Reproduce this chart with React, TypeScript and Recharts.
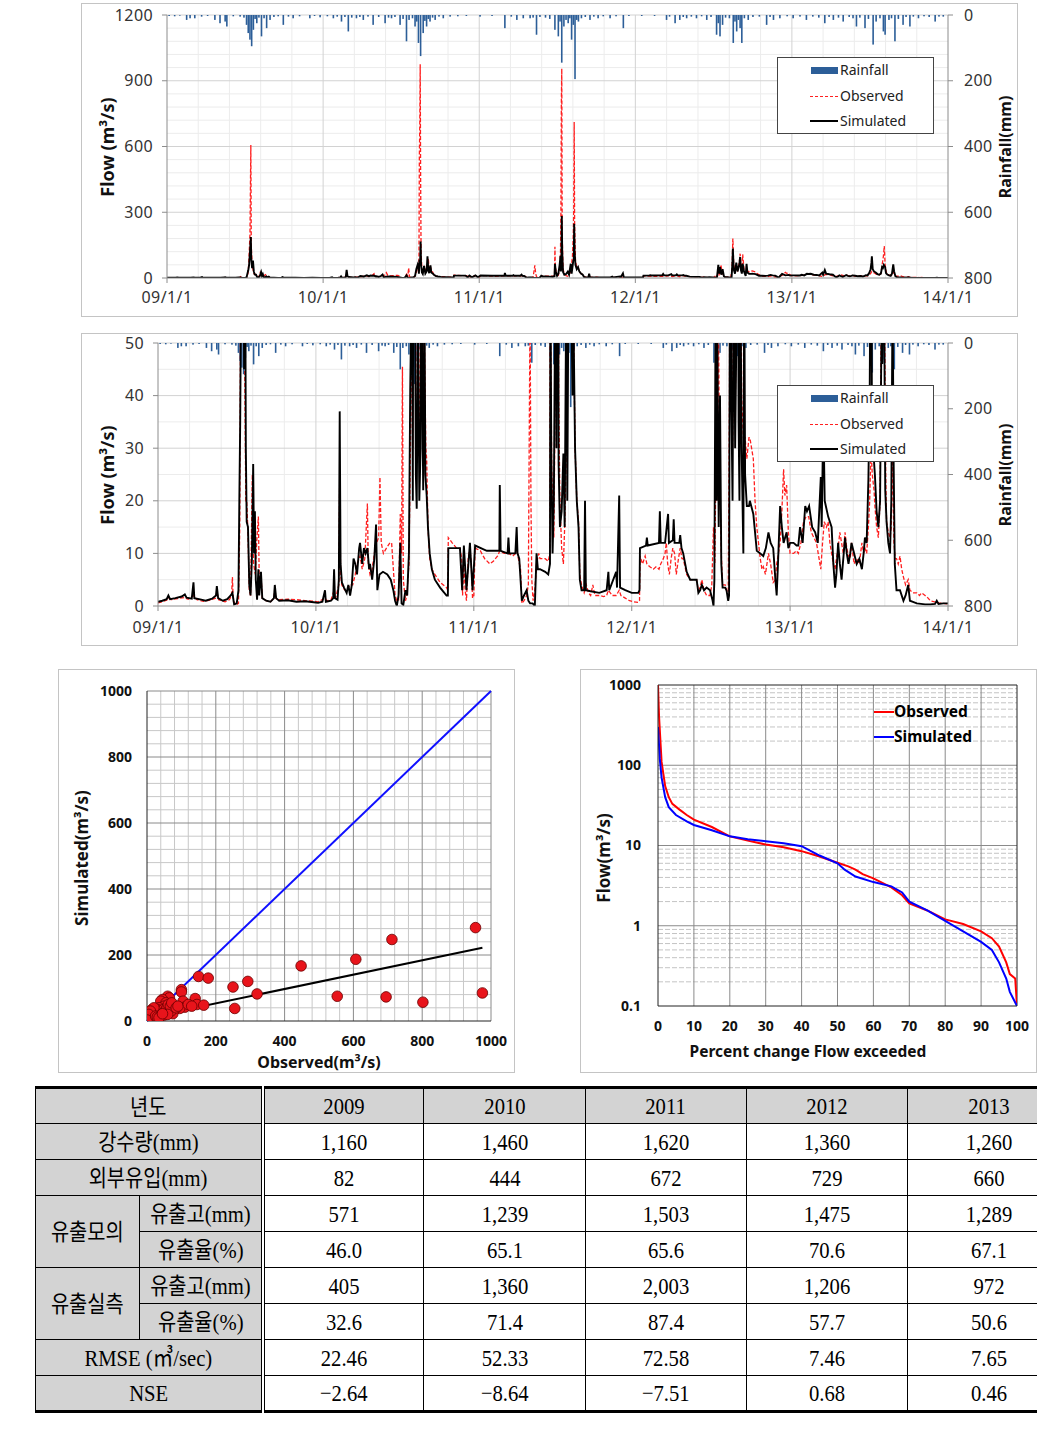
import React from 'react';
import {
  ComposedChart, ScatterChart, Line, Bar, Scatter, XAxis, YAxis,
  CartesianGrid, ReferenceLine,
} from 'recharts';

// ---------------- time-series data (day index from 2009-01-01) ----------------
const yearTickDays = [0, 365, 730, 1095, 1461, 1826];
const yearTickLabels = ['09/1/1', '10/1/1', '11/1/1', '12/1/1', '13/1/1', '14/1/1'];
const flowTicksFull = [0, 300, 600, 900, 1200];
const flowTicksZoom = [0, 10, 20, 30, 40, 50];
const rainTicks = [0, 200, 400, 600, 800];

const simulatedFlow: [number, number][] = [
  [0, 0.8], [10, 1.0], [20, 1.3], [24, 2.0], [28, 1.3], [40, 1.5], [55, 1.8], [62, 2.2], [66, 1.6], [78, 1.4],
  [82, 4.5], [84, 1.5], [100, 1.2], [110, 1.0], [125, 1.4], [134, 2.0], [136, 3.8], [139, 1.5], [150, 1.0], [160, 1.3],
  [168, 2.0], [172, 2.5], [176, 0.3], [182, 0.5], [186, 3], [188, 20], [190, 35], [192, 60], [194, 120], [196, 187],
  [197, 90], [199, 45], [201, 80], [203, 30], [205, 16], [208, 15], [211, 4], [214, 2], [217, 9], [220, 27],
  [222, 10], [224, 18], [226, 5], [229, 1.2], [232, 7], [234, 2], [238, 6.5], [241, 1.5], [250, 1.0], [260, 0.8],
  [268, 1.5], [270, 4], [273, 1.5], [280, 1.0], [300, 1.1], [320, 0.8], [340, 0.9], [360, 0.7],
  [370, 0.6], [380, 0.8], [386, 3.0], [388, 0.8], [400, 1.0], [405, 1.5], [407, 7], [409, 1.5], [415, 1.2], [418, 5],
  [420, 37], [422, 8], [425, 4.5], [430, 3.5], [436, 2.5], [440, 4], [444, 2], [448, 4], [452, 9], [456, 8],
  [460, 6], [465, 11], [467, 12], [472, 8], [476, 11], [480, 10], [484, 11], [488, 7], [490, 8], [495, 5],
  [500, 9], [504, 15.5], [507, 3], [512, 6], [520, 6.5], [530, 6], [538, 5], [544, 3], [548, 1], [552, 0],
  [556, 2], [560, 12], [563, 0.5], [567, 0.2], [572, 3], [576, 2], [580, 10], [583, 41], [586, 60], [588, 43],
  [589, 20], [590, 75], [591, 73], [592, 85], [593, 167], [594, 60], [596, 25], [598, 18.5], [601, 55], [604, 20],
  [607, 30], [609, 99], [611, 40], [613, 22], [616, 58], [618, 25], [621, 21], [624, 15], [628, 10], [633, 7],
  [640, 5], [652, 3.5], [667, 2], [670, 2], [671, 11], [690, 11], [698, 11], [703, 3], [707, 11.5], [713, 3],
  [721, 12], [727, 3],
  [733, 11.5], [760, 10.5], [789, 10.5], [790, 23], [792, 10.5], [808, 10], [810, 13], [812, 10], [826, 10], [829, 15],
  [831, 10], [835, 9], [841, 1], [846, 2], [852, 3], [856, 1], [860, 0.5], [866, 0.5], [871, 0], [875, 10],
  [878, 7], [883, 7], [895, 6.5], [902, 6], [906, 8], [907, 65], [909, 30], [912, 10], [915, 20], [918, 60],
  [920, 100], [921, 30], [922, 57], [923, 283], [924, 120], [926, 27], [929, 15], [933, 18], [937, 29], [940, 15],
  [944, 65], [946, 20], [950, 80], [951, 82], [952, 247], [953, 120], [955, 60], [958, 40], [961, 50], [964, 30],
  [968, 20], [972, 15], [975, 5], [979, 3], [985, 3], [987, 20], [989, 3], [1000, 2.8], [1020, 2.5], [1037, 3],
  [1041, 6.5], [1043, 3], [1059, 6.5], [1061, 3.5], [1066, 21], [1068, 3.5], [1080, 3],
  [1095, 2.5], [1110, 2.5], [1113, 3], [1114, 11], [1128, 11.5], [1130, 13], [1132, 11.5], [1158, 12], [1160, 18], [1162, 12],
  [1172, 12], [1179, 17.5], [1181, 12], [1190, 12.5], [1192, 16.5], [1194, 12], [1205, 12], [1207, 13.5], [1210, 11], [1214, 10],
  [1222, 6.5], [1230, 5], [1245, 5], [1249, 2.5], [1253, 3], [1257, 4], [1262, 3], [1268, 3.5], [1276, 3], [1282, 1],
  [1284, 0], [1286, 5], [1289, 60], [1291, 20], [1293, 50], [1296, 15], [1299, 40], [1302, 8], [1305, 3.5], [1311, 3.5],
  [1314, 3], [1318, 1], [1320, 2], [1322, 70], [1323, 134], [1325, 40], [1328, 20], [1331, 70], [1334, 30], [1338, 60],
  [1340, 96], [1342, 35], [1344, 20], [1346, 65], [1349, 30], [1353, 10], [1355, 65], [1357, 25], [1361, 19], [1366, 19],
  [1368, 20], [1376, 17.5], [1384, 10.5], [1392, 10], [1399, 9.5], [1405, 11], [1411, 14], [1416, 12], [1422, 11], [1427, 5],
  [1430, 2], [1433, 8], [1438, 19], [1442, 15], [1446, 12], [1453, 14], [1457, 11],
  [1461, 12], [1469, 12], [1476, 11.5], [1480, 11.5], [1484, 15], [1490, 12], [1496, 19], [1500, 18], [1505, 19], [1512, 15],
  [1519, 14], [1525, 12], [1532, 24.5], [1534, 15], [1538, 36], [1541, 20], [1549, 17], [1557, 15], [1561, 8], [1565, 3.5],
  [1568, 6], [1572, 12], [1576, 8], [1580, 5], [1584, 9], [1588, 13], [1592, 10], [1596, 8], [1600, 10], [1603, 12],
  [1609, 10], [1615, 8], [1621, 9], [1627, 7], [1631, 10], [1634, 13], [1638, 12], [1642, 24], [1645, 40], [1647, 70],
  [1648, 99], [1650, 40], [1653, 30], [1657, 25], [1661, 18], [1665, 15], [1669, 20], [1672, 50], [1674, 46], [1676, 60],
  [1679, 50], [1681, 22], [1684, 16], [1688, 12], [1692, 10], [1695, 20], [1698, 62], [1700, 30], [1703, 8], [1707, 3],
  [1715, 3], [1723, 1], [1728, 2], [1734, 4], [1738, 1], [1745, 0.8], [1754, 0.5], [1773, 0.3], [1785, 0.3], [1796, 0.4],
  [1800, 1.0], [1804, 0.4], [1815, 0.5], [1826, 0.5],
];

const observedFlow: [number, number][] = [
  [0, 0.6], [10, 0.8], [20, 1.1], [24, 1.5], [30, 1.2], [45, 1.4], [60, 1.6], [70, 1.3], [82, 2], [90, 1.2],
  [105, 0.9], [120, 1.1], [134, 1.5], [136, 2.8], [140, 1.2], [155, 0.8], [165, 1.2], [170, 2], [172, 5.5], [174, 1],
  [180, 0.2], [186, 0.5], [189, 15], [191, 60], [194, 200], [196, 607], [197, 150], [199, 60], [201, 40], [203, 20],
  [205, 20], [208, 14], [211, 3], [214, 2], [218, 25], [221, 8], [225, 6], [228, 12], [232, 17], [234, 5],
  [238, 6], [241, 1.5], [250, 1.0], [260, 0.8], [268, 1.5], [270, 3.5], [273, 1.4], [280, 1.2], [300, 1.3], [320, 1.2],
  [340, 1.0], [360, 0.9],
  [370, 0.8], [386, 1.5], [390, 1], [400, 1.2], [407, 3], [410, 1.4], [418, 4], [420, 25], [422, 6], [425, 4],
  [430, 3.2], [436, 2.8], [440, 3.5], [444, 4], [450, 4], [456, 6], [460, 8], [467, 9.5], [472, 7], [478, 9],
  [484, 19.5], [486, 8], [490, 6], [495, 7], [500, 10], [505, 12], [510, 13], [513, 24.5], [516, 12], [521, 10],
  [528, 11], [536, 12], [540, 12], [544, 7], [548, 2], [552, 1], [556, 1], [560, 17.5], [563, 10], [565, 45.5],
  [567, 5], [572, 1], [575, 2], [580, 8], [585, 40], [588, 60], [589, 30], [590, 553], [591, 695], [592, 975],
  [593, 448], [594, 120], [596, 40], [599, 30], [602, 55], [605, 30], [608, 40], [611, 90], [613, 37], [616, 50],
  [619, 30], [621, 28], [624, 15], [628, 9], [633, 7], [640, 6], [652, 4.5], [667, 3.5], [670, 3], [671, 13],
  [680, 12], [690, 11], [698, 11], [702, 9], [704, 2], [707, 8], [710, 3], [713, 1], [717, 9], [721, 11],
  [724, 8], [727, 1.5], [730, 2],
  [733, 11], [745, 10.5], [755, 9], [767, 8], [775, 8.5], [785, 9.5], [790, 10.5], [800, 10], [810, 10], [820, 9.5],
  [826, 10], [829, 11], [833, 9], [838, 7], [841, 0.5], [846, 1], [852, 2], [856, 4], [860, 58], [862, 20],
  [864, 5], [867, 1], [871, 3], [875, 8], [880, 10], [883, 9], [895, 9], [902, 8.5], [906, 10], [907, 142],
  [908, 50], [910, 26], [912, 20], [915, 13], [918, 40], [920, 120], [921, 300], [922, 802], [923, 955], [924, 200],
  [926, 40], [929, 20], [933, 11], [937, 8], [940, 15], [944, 30], [948, 100], [950, 200], [951, 320], [952, 712],
  [953, 250], [955, 80], [958, 45], [961, 50], [964, 30], [968, 20], [972, 16], [975, 6], [979, 4], [985, 2.5],
  [990, 4], [995, 2.5], [1000, 2], [1005, 4], [1010, 2], [1020, 2], [1030, 1.8], [1037, 2], [1041, 3], [1050, 2],
  [1059, 2], [1066, 3], [1070, 2], [1080, 1.5], [1090, 1],
  [1100, 0.8], [1110, 0.7], [1113, 1], [1114, 9.5], [1120, 8], [1126, 9.5], [1130, 8], [1136, 7.5], [1145, 7], [1152, 7.5],
  [1158, 7], [1162, 8], [1168, 9], [1172, 10], [1175, 12], [1178, 8], [1182, 6], [1186, 9], [1190, 11], [1194, 10],
  [1198, 6], [1203, 9], [1207, 11], [1211, 9], [1214, 9], [1222, 6], [1230, 5], [1245, 5], [1249, 3], [1253, 3.5],
  [1257, 5], [1262, 3], [1268, 2], [1276, 2], [1280, 4], [1284, 15], [1287, 8], [1290, 30], [1292, 20], [1295, 60],
  [1298, 25], [1302, 10], [1305, 4], [1311, 4], [1314, 3], [1318, 2], [1321, 40], [1323, 180], [1325, 60], [1328, 30],
  [1331, 50], [1334, 35], [1338, 70], [1340, 111], [1342, 50], [1344, 30], [1346, 108], [1349, 40], [1353, 32], [1357, 32],
  [1361, 28], [1366, 32], [1368, 32], [1372, 30], [1376, 28], [1380, 20], [1384, 15], [1388, 12], [1392, 9], [1396, 7],
  [1399, 7.5], [1404, 6], [1411, 10], [1416, 8], [1422, 4.5], [1427, 5], [1430, 8], [1438, 12], [1442, 18], [1446, 26],
  [1449, 21], [1453, 23], [1457, 14],
  [1461, 10], [1469, 10], [1476, 10.5], [1480, 10], [1486, 12], [1492, 16], [1498, 17], [1504, 17], [1510, 14], [1516, 13],
  [1522, 12], [1528, 9], [1532, 7], [1536, 12], [1540, 16], [1545, 15], [1549, 16], [1553, 12], [1557, 10], [1561, 8],
  [1565, 7], [1568, 9], [1572, 11], [1576, 14], [1580, 12], [1584, 10], [1588, 14], [1592, 11], [1596, 9.5], [1600, 9],
  [1603, 12], [1609, 8], [1615, 9], [1621, 8], [1627, 12], [1631, 10], [1634, 11], [1638, 10], [1642, 15], [1645, 20],
  [1648, 30], [1651, 25], [1655, 22], [1657, 19], [1661, 15], [1665, 13], [1669, 20], [1672, 60], [1675, 100], [1677, 146],
  [1679, 60], [1682, 25], [1684, 16], [1688, 14], [1692, 13], [1695, 15], [1698, 30], [1701, 12], [1704, 9], [1707, 9],
  [1711, 8], [1715, 9.5], [1719, 7], [1723, 5.5], [1728, 4], [1734, 5], [1738, 3], [1745, 2.5], [1754, 2.5], [1760, 2],
  [1765, 2.5], [1773, 2], [1780, 1.5], [1785, 1], [1795, 0.8], [1805, 0.6], [1815, 0.5], [1826, 0.4],
];

const dailyRainfall: [number, number][] = [
  [5, 3], [18, 4], [30, 2], [46, 15], [54, 10], [65, 10], [81, 5], [95, 3], [112, 15], [124, 25], [136, 20], [140, 35],
  [155, 4], [171, 5], [180, 8], [186, 30], [190, 55], [194, 75], [198, 95], [202, 45], [206, 12], [210, 25], [215, 8],
  [221, 65], [227, 10], [233, 40], [241, 15], [250, 6], [260, 4], [272, 30], [284, 5], [295, 10], [310, 4], [334, 10],
  [345, 3], [358, 7], [375, 4], [389, 10], [398, 5], [408, 20], [416, 6], [424, 50], [432, 8], [443, 10], [451, 6],
  [459, 15], [470, 5], [482, 30], [495, 6], [510, 25], [518, 8], [525, 10], [533, 6], [545, 30], [552, 12], [560, 80],
  [566, 15], [574, 10], [580, 35], [584, 20], [588, 85], [593, 125], [599, 55], [603, 18], [607, 35], [611, 12],
  [615, 20], [621, 8], [627, 15], [636, 5], [646, 10], [662, 5], [680, 4], [700, 3], [732, 5], [760, 3], [790, 40],
  [805, 5], [818, 15], [833, 10], [849, 10], [856, 8], [864, 60], [872, 6], [885, 8], [895, 12], [907, 45], [915, 65],
  [919, 20], [923, 145], [928, 35], [933, 15], [938, 25], [942, 10], [946, 75], [950, 30], [954, 195], [958, 15],
  [962, 20], [969, 10], [978, 6], [989, 15], [998, 5], [1008, 10], [1020, 4], [1036, 10], [1050, 4], [1067, 40],
  [1080, 3], [1110, 3], [1140, 3], [1168, 15], [1175, 5], [1188, 25], [1199, 15], [1207, 6], [1215, 10], [1226, 5],
  [1238, 10], [1250, 4], [1262, 15], [1272, 6], [1285, 60], [1289, 25], [1293, 65], [1299, 30], [1306, 8], [1315, 10],
  [1324, 85], [1328, 20], [1332, 50], [1336, 15], [1340, 40], [1344, 85], [1350, 10], [1359, 15], [1370, 6], [1385, 5],
  [1402, 30], [1410, 6], [1418, 15], [1433, 10], [1450, 4], [1464, 10], [1480, 5], [1495, 15], [1510, 5], [1524, 8],
  [1538, 25], [1548, 6], [1558, 15], [1570, 8], [1581, 20], [1595, 6], [1604, 10], [1612, 35], [1620, 8], [1632, 40],
  [1640, 12], [1651, 90], [1658, 20], [1667, 10], [1675, 50], [1679, 60], [1688, 15], [1694, 10], [1702, 80], [1710, 12],
  [1721, 30], [1728, 6], [1737, 35], [1745, 5], [1757, 10], [1770, 4], [1782, 6], [1796, 20], [1805, 5], [1815, 5],
];

// ---------------- scatter data ----------------
const scatterTicks = [0, 200, 400, 600, 800, 1000];
const scatterPoints: [number, number][] = [
  [955, 283], [712, 247], [607, 187], [448, 167], [150, 135], [178, 130], [293, 120], [250, 103], [100, 95], [320, 82],
  [975, 85], [553, 75], [695, 73], [802, 57], [255, 38], [60, 75], [65, 70], [45, 65], [40, 60], [100, 88],
  [105, 60], [140, 68], [145, 50], [165, 48], [110, 42], [95, 38], [80, 35], [75, 22], [70, 30], [55, 55],
  [50, 45], [35, 40], [30, 35], [25, 30], [20, 25], [15, 20], [10, 15], [5, 10], [3, 5], [2, 2],
  [8, 4], [12, 8], [18, 12], [22, 18], [28, 22], [33, 28], [38, 30], [42, 25], [48, 35], [52, 30],
  [58, 40], [62, 50], [68, 45], [72, 55], [85, 40], [90, 45], [120, 50], [130, 45], [15, 35], [20, 40],
  [10, 30], [5, 20], [0, 3], [25, 15], [30, 12], [40, 15], [50, 18], [60, 20], [35, 10], [45, 22],
];
const oneToOneLine: [number, number][] = [[0, 0], [1000, 1000]];
const trendLine: [number, number][] = [[0, 10], [975, 222]];

// ---------------- flow duration data ----------------
const fdcPercentTicks = [0, 10, 20, 30, 40, 50, 60, 70, 80, 90, 100];
const fdcFlowTicks = [0.1, 1, 10, 100, 1000];
const fdcObserved: [number, number][] = [
  [0, 1000], [0.3, 400], [1, 110], [2, 55], [3, 40], [4, 33], [6, 28], [8, 24], [10, 21], [15, 17],
  [20, 13], [25, 11.5], [30, 10.3], [35, 9.5], [40, 8.5], [45, 7.3], [50, 6.1], [53, 5.5], [55, 5.0], [57, 4.4],
  [60, 3.9], [65, 3.0], [68, 2.4], [70, 1.9], [75, 1.55], [80, 1.2], [85, 1.05], [90, 0.85], [93, 0.7], [95, 0.55],
  [97, 0.35], [98, 0.25], [99.5, 0.22], [100, 0.1],
];
const fdcSimulated: [number, number][] = [
  [0, 300], [0.5, 120], [1, 70], [2, 40], [3, 30], [5, 24], [8, 20], [10, 18], [15, 15.5], [20, 13],
  [25, 12], [30, 11.3], [35, 10.7], [40, 9.8], [45, 7.5], [50, 6], [52, 5.0], [55, 4.1], [60, 3.5], [65, 3.1],
  [68, 2.6], [70, 2.0], [75, 1.55], [80, 1.15], [85, 0.85], [90, 0.63], [93, 0.5], [95, 0.35], [97, 0.22], [98, 0.15],
  [100, 0.1],
];

// ---------------- table data ----------------
const tableYears = ['2009', '2010', '2011', '2012', '2013'];
const rowRainfall = ['1,160', '1,460', '1,620', '1,360', '1,260'];
const rowExternal = ['82', '444', '672', '729', '660'];
const rowSimDepth = ['571', '1,239', '1,503', '1,475', '1,289'];
const rowSimRatio = ['46.0', '65.1', '65.6', '70.6', '67.1'];
const rowObsDepth = ['405', '1,360', '2,003', '1,206', '972'];
const rowObsRatio = ['32.6', '71.4', '87.4', '57.7', '50.6'];
const rowRmse = ['22.46', '52.33', '72.58', '7.46', '7.65'];
const rowNse = ['−2.64', '−8.64', '−7.51', '0.68', '0.46'];

// ---------------- helpers ----------------
function buildSeriesRows() {
  const map = new Map<number, any>();
  const get = (d: number) => {
    if (!map.has(d)) map.set(d, { day: d });
    return map.get(d);
  };
  observedFlow.forEach(([d, v]) => { get(d).obs = v; });
  simulatedFlow.forEach(([d, v]) => { get(d).sim = v; });
  dailyRainfall.forEach(([d, v]) => { get(d).rain = v; });
  return Array.from(map.values()).sort((a, b) => a.day - b.day);
}
const seriesRows = buildSeriesRows();

const minorDays: number[] = [];
for (let i = 0; i < yearTickDays.length - 1; i++) {
  for (let k = 1; k < 5; k++) {
    minorDays.push(yearTickDays[i] + ((yearTickDays[i + 1] - yearTickDays[i]) * k) / 5);
  }
}

const rainColor = '#2c5e98';
const sansFont = "'Noto Sans', 'Liberation Sans', sans-serif";

function RainShape(p: any) {
  if (p == null || p.height == null || !isFinite(p.height) || p.height === 0) return <g />;
  const top = Math.min(p.y, p.y + p.height);
  const h = Math.abs(p.height);
  const cx = p.x + p.width / 2;
  return <rect x={cx - 0.8} y={top} width={1.6} height={h} fill={rainColor} />;
}

function VText({ cx, cy, text, size }: { cx: number; cy: number; text: string; size: number }) {
  return (
    <div style={{
      position: 'absolute', left: cx, top: cy, transform: 'translate(-50%, -50%) rotate(-90deg)',
      whiteSpace: 'nowrap', fontWeight: 700, fontSize: size, fontFamily: sansFont, color: '#111', lineHeight: 1,
    }}>{text}</div>
  );
}

function HText({ cx, cy, text, size }: { cx: number; cy: number; text: string; size: number }) {
  return (
    <div style={{
      position: 'absolute', left: cx, top: cy, transform: 'translate(-50%, -50%)',
      whiteSpace: 'nowrap', fontWeight: 700, fontSize: size, fontFamily: sansFont, color: '#111', lineHeight: 1,
    }}>{text}</div>
  );
}

function TsLegend({ left, top }: { left: number; top: number }) {
  const rowY = [12, 38, 63];
  const txt = { position: 'absolute' as const, left: 62, fontSize: 14, fontFamily: sansFont, color: '#222', lineHeight: 1, transform: 'translateY(-50%)' };
  return (
    <div style={{ position: 'absolute', left, top, width: 155, height: 75, border: '1px solid #444', background: '#fff' }}>
      <div style={{ position: 'absolute', left: 33, top: rowY[0] - 3, width: 27, height: 7, background: rainColor }} />
      <div style={{ ...txt, top: rowY[0] }}>Rainfall</div>
      <div style={{ position: 'absolute', left: 32, top: rowY[1], width: 28, borderTop: '1.2px dashed #ff2020' }} />
      <div style={{ ...txt, top: rowY[1] }}>Observed</div>
      <div style={{ position: 'absolute', left: 32, top: rowY[2] - 1, width: 28, height: 2, background: '#000' }} />
      <div style={{ ...txt, top: rowY[2] }}>Simulated</div>
    </div>
  );
}

type PanelCfg = {
  top: number; height: number; marginLeft: number; marginTop: number; marginBottom: number;
  flowMax: number; flowTicks: number[]; flowMinorStep: number; xTickMargin: number;
  legendTop: number; titleCy: number; frameTop: number; frameBottom: number;
};

function FlowPanel({ cfg }: { cfg: PanelCfg }) {
  const majorFlow = cfg.flowTicks.filter((v) => v > 0);
  const minorFlow: number[] = [];
  for (let v = cfg.flowMinorStep; v < cfg.flowMax; v += cfg.flowMinorStep) {
    if (!cfg.flowTicks.includes(v)) minorFlow.push(v);
  }
  const tickStyle = { fontSize: 16, fill: '#333', fontFamily: sansFont, letterSpacing: 0.4 };
  return (
    <>
      <div style={{
        position: 'absolute', left: 81, top: cfg.frameTop, width: 937, height: cfg.frameBottom - cfg.frameTop,
        border: '1.5px solid #c4c4c4', boxSizing: 'border-box',
      }} />
      <div style={{ position: 'absolute', left: 81, top: cfg.top }}>
        <ComposedChart
          width={937}
          height={cfg.height}
          data={seriesRows}
          margin={{ top: cfg.marginTop, right: 20, bottom: cfg.marginBottom, left: cfg.marginLeft }}
        >
          <CartesianGrid yAxisId="flow" horizontalValues={minorFlow} verticalValues={minorDays} stroke="#ececec" />
          <CartesianGrid yAxisId="flow" horizontalValues={majorFlow} verticalValues={yearTickDays.slice(1, 5)} stroke="#d2d2d2" />
          <XAxis
            dataKey="day" type="number" domain={[0, 1826]} ticks={yearTickDays} interval={0} allowDataOverflow
            tickFormatter={(v: number) => yearTickLabels[yearTickDays.indexOf(v)] ?? ''}
            tick={tickStyle} tickSize={5} tickMargin={cfg.xTickMargin} height={30}
            axisLine={{ stroke: '#8c8c8c' }} tickLine={{ stroke: '#8c8c8c' }}
          />
          <YAxis
            yAxisId="flow" type="number" domain={[0, cfg.flowMax]} ticks={cfg.flowTicks} interval={0} allowDataOverflow
            width={60} tick={tickStyle} tickSize={5} tickMargin={9}
            axisLine={{ stroke: '#8c8c8c' }} tickLine={{ stroke: '#8c8c8c' }}
          />
          <YAxis
            yAxisId="rain" orientation="right" type="number" reversed domain={[0, 800]} ticks={rainTicks} interval={0}
            allowDataOverflow width={50} tick={tickStyle} tickSize={5} tickMargin={11}
            axisLine={{ stroke: '#8c8c8c' }} tickLine={{ stroke: '#8c8c8c' }}
          />
          <Bar yAxisId="rain" dataKey="rain" fill={rainColor} barSize={1.4} shape={RainShape} isAnimationActive={false} />
          <Line
            yAxisId="flow" type="linear" dataKey="obs" stroke="#ff1f1f" strokeWidth={1.3} strokeDasharray="4 2"
            dot={false} activeDot={false} connectNulls isAnimationActive={false}
          />
          <Line
            yAxisId="flow" type="linear" dataKey="sim" stroke="#000" strokeWidth={1.9}
            dot={false} activeDot={false} connectNulls isAnimationActive={false}
          />
        </ComposedChart>
      </div>
      <TsLegend left={777} top={cfg.legendTop} />
      <VText cx={107} cy={cfg.titleCy} text="Flow (m³/s)" size={18} />
      <VText cx={1005} cy={cfg.titleCy} text="Rainfall(mm)" size={16} />
    </>
  );
}

function ScatterPanel() {
  const minor: number[] = [];
  for (let v = 40; v < 1000; v += 40) if (v % 200 !== 0) minor.push(v);
  const major = [200, 400, 600, 800, 1000];
  const pts = scatterPoints.map(([x, y]) => ({ x, y }));
  const tickStyle = { fontSize: 14, fill: '#111', fontWeight: 700, fontFamily: sansFont };
  return (
    <>
      <div style={{
        position: 'absolute', left: 58, top: 669, width: 457, height: 404,
        border: '1.5px solid #c4c4c4', boxSizing: 'border-box',
      }} />
      <div style={{ position: 'absolute', left: 58, top: 669 }}>
        <ScatterChart width={457} height={404} margin={{ top: 22, right: 24, bottom: 22, left: 29 }}>
          <CartesianGrid horizontalValues={minor} verticalValues={minor} stroke="#c8c8c8" />
          <CartesianGrid horizontalValues={major} verticalValues={major} stroke="#8a8a8a" />
          <XAxis
            type="number" dataKey="x" domain={[0, 1000]} ticks={scatterTicks} interval={0} allowDataOverflow
            tick={tickStyle} tickLine={false} tickSize={4} tickMargin={11} height={30}
            axisLine={{ stroke: '#222' }}
          />
          <YAxis
            type="number" dataKey="y" domain={[0, 1000]} ticks={scatterTicks} interval={0} allowDataOverflow
            tick={tickStyle} tickLine={false} tickSize={4} tickMargin={11} width={60}
            axisLine={{ stroke: '#222' }}
          />
          <ReferenceLine
            segment={oneToOneLine.map(([x, y]) => ({ x, y }))}
            stroke="#1010ff" strokeWidth={2}
          />
          <Scatter
            data={pts} isAnimationActive={false}
            shape={(p: any) => <circle cx={p.cx} cy={p.cy} r={5.3} fill="#e8141b" stroke="#6a0000" strokeWidth={0.8} />}
          />
          <ReferenceLine
            segment={trendLine.map(([x, y]) => ({ x, y }))}
            stroke="#000" strokeWidth={2}
          />
        </ScatterChart>
      </div>
      <VText cx={81} cy={858} text="Simulated(m³/s)" size={17} />
      <HText cx={319} cy={1062} text="Observed(m³/s)" size={16} />
    </>
  );
}

function FdcPanel() {
  const minorLog: number[] = [];
  [0.1, 1, 10, 100].forEach((dec) => {
    for (let m = 2; m <= 9; m++) minorLog.push(+(m * dec).toPrecision(3));
  });
  const tickStyle = { fontSize: 14, fill: '#111', fontWeight: 700, fontFamily: sansFont };
  const obs = fdcObserved.map(([p, q]) => ({ p, q }));
  const sim = fdcSimulated.map(([p, q]) => ({ p, q }));
  return (
    <>
      <div style={{
        position: 'absolute', left: 580, top: 669, width: 457, height: 404,
        border: '1.5px solid #c4c4c4', boxSizing: 'border-box',
      }} />
      <div style={{ position: 'absolute', left: 580, top: 669 }}>
        <ComposedChart width={456} height={404} margin={{ top: 16, right: 19, bottom: 37, left: 18 }}>
          <CartesianGrid horizontalValues={minorLog} vertical={false} stroke="#c4c4c4" strokeDasharray="5 2" />
          <CartesianGrid horizontalValues={[1, 10, 100]} verticalValues={fdcPercentTicks.slice(1, 10)} stroke="#8a8a8a" />
          <XAxis
            type="number" dataKey="p" domain={[0, 100]} ticks={fdcPercentTicks} interval={0} allowDataOverflow
            tick={tickStyle} tickLine={false} tickSize={4} tickMargin={11} height={30}
            axisLine={{ stroke: '#222' }}
          />
          <YAxis
            type="number" dataKey="q" scale="log" domain={[0.1, 1000]} ticks={fdcFlowTicks} interval={0} allowDataOverflow
            tick={tickStyle} tickLine={false} tickSize={4} tickMargin={13} width={60}
            axisLine={{ stroke: '#222' }}
          />
          <ReferenceLine y={1000} stroke="#222" />
          <ReferenceLine x={100} stroke="#222" />
          <Line data={obs} dataKey="q" type="linear" stroke="#ff0000" strokeWidth={2} dot={false} activeDot={false} isAnimationActive={false} />
          <Line data={sim} dataKey="q" type="linear" stroke="#0000ff" strokeWidth={2} dot={false} activeDot={false} isAnimationActive={false} />
        </ComposedChart>
      </div>
      <div style={{ position: 'absolute', left: 874, top: 711, width: 20, height: 2, background: '#ff0000' }} />
      <div style={{ position: 'absolute', left: 874, top: 736, width: 20, height: 2, background: '#0000ff' }} />
      <div style={{ position: 'absolute', left: 894, top: 712, transform: 'translateY(-50%)', fontSize: 15.5, fontWeight: 700, fontFamily: sansFont, lineHeight: 1 }}>Observed</div>
      <div style={{ position: 'absolute', left: 894, top: 737, transform: 'translateY(-50%)', fontSize: 15.5, fontWeight: 700, fontFamily: sansFont, lineHeight: 1 }}>Simulated</div>
      <VText cx={603} cy={858} text="Flow(m³/s)" size={17} />
      <HText cx={808} cy={1052} text="Percent change Flow exceeded" size={15.5} />
    </>
  );
}

function Txt({ t }: { t: string }) {
  const parts = t.split(/([\uAC00-\uD7A3]+)/).filter((s) => s.length > 0);
  return (
    <span style={{ display: 'inline-block', transform: 'scaleX(0.86)', whiteSpace: 'nowrap' }}>
      {parts.map((s, i) =>
        /[\uAC00-\uD7A3]/.test(s)
          ? <span key={i} style={{ fontFamily: "'Noto Sans CJK KR', sans-serif", fontSize: 23 }}>{s}</span>
          : <span key={i}>{s}</span>,
      )}
    </span>
  );
}

function DataTable() {
  const gray = '#d3d3d3';
  const base: React.CSSProperties = {
    border: '1px solid #000', textAlign: 'center', padding: 0, verticalAlign: 'middle',
    fontSize: 24, fontFamily: "'Liberation Serif', 'Noto Sans CJK KR', serif", color: '#000', lineHeight: 1,
    overflow: 'hidden',
  };
  const label: React.CSSProperties = { ...base, background: gray };
  const labelEdge: React.CSSProperties = { ...label, borderRight: '4px double #000' };
  const val: React.CSSProperties = { ...base, background: '#fff' };
  const rowH = 36;
  const valCells = (arr: string[]) => arr.map((v, i) => <td key={i} style={val}><Txt t={v} /></td>);
  return (
    <table style={{
      position: 'absolute', left: 35, top: 1086, width: 1034, borderCollapse: 'collapse', tableLayout: 'fixed',
      borderTop: '3px solid #000', borderBottom: '3px solid #000',
    }}>
      <colgroup>
        <col style={{ width: 104 }} />
        <col style={{ width: 123 }} />
        <col style={{ width: 161 }} />
        <col style={{ width: 162 }} />
        <col style={{ width: 161 }} />
        <col style={{ width: 161 }} />
        <col style={{ width: 162 }} />
      </colgroup>
      <tbody>
        <tr style={{ height: rowH }}>
          <td colSpan={2} style={labelEdge}><Txt t="년도" /></td>
          {tableYears.map((y, i) => <td key={i} style={label}><Txt t={y} /></td>)}
        </tr>
        <tr style={{ height: rowH }}>
          <td colSpan={2} style={labelEdge}><Txt t="강수량(mm)" /></td>
          {valCells(rowRainfall)}
        </tr>
        <tr style={{ height: rowH }}>
          <td colSpan={2} style={labelEdge}><Txt t="외부유입(mm)" /></td>
          {valCells(rowExternal)}
        </tr>
        <tr style={{ height: rowH }}>
          <td rowSpan={2} style={label}><Txt t="유출모의" /></td>
          <td style={labelEdge}><Txt t="유출고(mm)" /></td>
          {valCells(rowSimDepth)}
        </tr>
        <tr style={{ height: rowH }}>
          <td style={labelEdge}><Txt t="유출율(%)" /></td>
          {valCells(rowSimRatio)}
        </tr>
        <tr style={{ height: rowH }}>
          <td rowSpan={2} style={label}><Txt t="유출실측" /></td>
          <td style={labelEdge}><Txt t="유출고(mm)" /></td>
          {valCells(rowObsDepth)}
        </tr>
        <tr style={{ height: rowH }}>
          <td style={labelEdge}><Txt t="유출율(%)" /></td>
          {valCells(rowObsRatio)}
        </tr>
        <tr style={{ height: rowH }}>
          <td colSpan={2} style={labelEdge}><Txt t="RMSE (㎥/sec)" /></td>
          {valCells(rowRmse)}
        </tr>
        <tr style={{ height: rowH }}>
          <td colSpan={2} style={labelEdge}><Txt t="NSE" /></td>
          {valCells(rowNse)}
        </tr>
      </tbody>
    </table>
  );
}

const panelFull: PanelCfg = {
  top: 0, height: 316, marginLeft: 26, marginTop: 15, marginBottom: 8,
  flowMax: 1200, flowTicks: flowTicksFull, flowMinorStep: 60, xTickMargin: 9,
  legendTop: 57, titleCy: 147, frameTop: 3, frameBottom: 317,
};
const panelZoom: PanelCfg = {
  top: 330, height: 316, marginLeft: 17, marginTop: 13, marginBottom: 10,
  flowMax: 50, flowTicks: flowTicksZoom, flowMinorStep: 5, xTickMargin: 11,
  legendTop: 385, titleCy: 475, frameTop: 333, frameBottom: 646,
};

export default function App() {
  return (
    <div style={{ position: 'absolute', left: 0, top: 0, width: 1037, height: 1435, background: '#fff', overflow: 'hidden' }}>
      <FlowPanel cfg={panelFull} />
      <FlowPanel cfg={panelZoom} />
      <ScatterPanel />
      <FdcPanel />
      <DataTable />
    </div>
  );
}
